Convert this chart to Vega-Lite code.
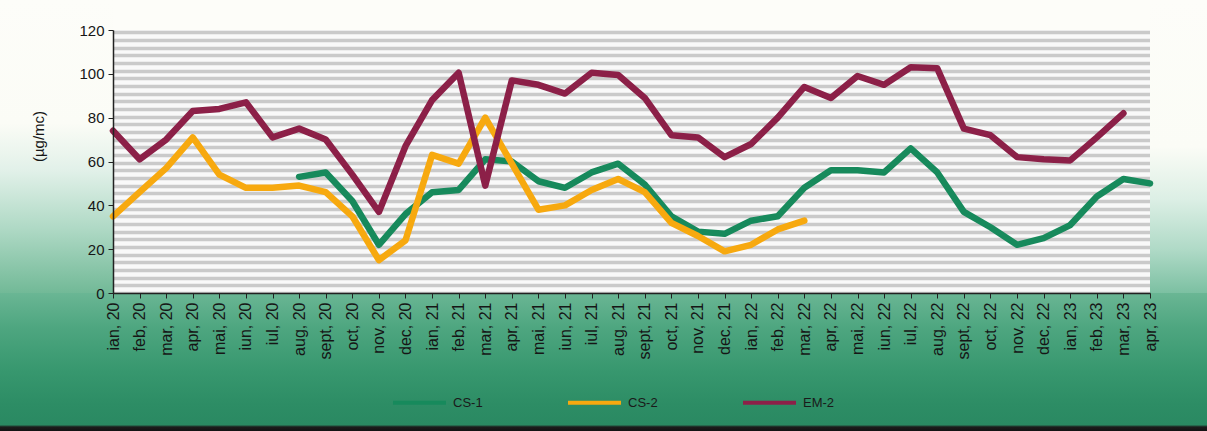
{
  "$schema": "https://vega.github.io/schema/vega-lite/v6.json",
  "width": 1037,
  "height": 263,
  "autosize": {"type": "none"},
  "padding": {"left": 113, "top": 30, "right": 57, "bottom": 138},
  "background": "#fdfdf9",
  "config": {"view": {"stroke": null, "fill": "#f9f9f9"}, "font": "Liberation Sans"},
  "resolve": {"scale": {"x": "independent"}},
  "layer": [
    {
      "data": {"values": [{}]},
      "mark": {"type": "rect", "strokeWidth": 0, "fill": {"gradient": "linear", "x1": 0, "y1": 0, "x2": 0, "y2": 1, "stops": [
        {"offset": 0, "color": "#6ab694"},
        {"offset": 0.25, "color": "#4ea680"},
        {"offset": 0.55, "color": "#38986f"},
        {"offset": 0.8, "color": "#2d8d65"},
        {"offset": 0.955, "color": "#2a8962"},
        {"offset": 0.97, "color": "#1c1c1c"},
        {"offset": 1, "color": "#121212"}
      ]}},
      "encoding": {
        "x": {"datum": -4.25, "type": "quantitative", "scale": {"domain": [0, 39], "nice": false, "zero": false}, "axis": null},
        "x2": {"datum": 41.2},
        "y": {"datum": 0, "type": "quantitative", "scale": {"domain": [0, 120], "nice": false}, "axis": null},
        "y2": {"datum": -63}
      }
    },
    {
      "data": {"values": [{}]},
      "mark": {"type": "rect", "strokeWidth": 0, "fill": {"gradient": "linear", "x1": 0, "y1": 0, "x2": 0, "y2": 1, "stops": [
        {"offset": 0, "color": "#fdfdf9"},
        {"offset": 0.42, "color": "#fbfcf6"},
        {"offset": 0.58, "color": "#e2f1e9"},
        {"offset": 0.78, "color": "#afd9c5"},
        {"offset": 1, "color": "#72b997"}
      ]}},
      "encoding": {
        "x": {"datum": -4.25, "type": "quantitative", "scale": {"domain": [0, 39], "nice": false, "zero": false}, "axis": null},
        "x2": {"datum": 0},
        "y": {"datum": 0, "type": "quantitative", "scale": {"domain": [0, 120], "nice": false},
          "axis": {"orient": "right", "grid": true, "labels": false, "ticks": false, "domain": false, "title": null, "zindex": 0,
            "gridColor": "#cacaca", "gridWidth": 3.3,
            "values": [0, 3.5, 7, 10.5, 14, 17.5, 21, 24.5, 28, 31.5, 35, 38.5, 42, 45.5, 49, 52.5, 56, 59.5, 63, 66.5, 70, 73.5, 77, 80.5, 84, 87.5, 91, 94.5, 98, 101.5, 105, 108.5, 112, 115.5, 119]}},
        "y2": {"datum": 133.7}
      }
    },
    {
      "data": {"values": [{}]},
      "mark": {"type": "rect", "strokeWidth": 0, "fill": {"gradient": "linear", "x1": 0, "y1": 0, "x2": 0, "y2": 1, "stops": [
        {"offset": 0, "color": "#fdfdf9"},
        {"offset": 0.5, "color": "#fbfcf6"},
        {"offset": 0.68, "color": "#dcefe5"},
        {"offset": 0.85, "color": "#b0dac7"},
        {"offset": 1, "color": "#7cc0a2"}
      ]}},
      "encoding": {
        "x": {"datum": 39, "type": "quantitative", "scale": {"domain": [0, 39], "nice": false, "zero": false}, "axis": null},
        "x2": {"datum": 41.2},
        "y": {"datum": 0, "type": "quantitative", "scale": {"domain": [0, 120], "nice": false}, "axis": null},
        "y2": {"datum": 133.7}
      }
    },
    {
      "data": {"values": [
        {"month": "ian, 20", "CS-1": null, "CS-2": 35, "EM-2": 74},
        {"month": "feb, 20", "CS-1": null, "CS-2": 46, "EM-2": 61},
        {"month": "mar, 20", "CS-1": null, "CS-2": 57, "EM-2": 70},
        {"month": "apr, 20", "CS-1": null, "CS-2": 71, "EM-2": 83},
        {"month": "mai, 20", "CS-1": null, "CS-2": 54, "EM-2": 84},
        {"month": "iun, 20", "CS-1": null, "CS-2": 48, "EM-2": 87},
        {"month": "iul, 20", "CS-1": null, "CS-2": 48, "EM-2": 71},
        {"month": "aug, 20", "CS-1": 53, "CS-2": 49, "EM-2": 75},
        {"month": "sept, 20", "CS-1": 55, "CS-2": 46, "EM-2": 70},
        {"month": "oct, 20", "CS-1": 42, "CS-2": 35, "EM-2": 54},
        {"month": "nov, 20", "CS-1": 22, "CS-2": 15, "EM-2": 37},
        {"month": "dec, 20", "CS-1": 36, "CS-2": 24, "EM-2": 67},
        {"month": "ian, 21", "CS-1": 46, "CS-2": 63, "EM-2": 88},
        {"month": "feb, 21", "CS-1": 47, "CS-2": 59, "EM-2": 100.5},
        {"month": "mar, 21", "CS-1": 61, "CS-2": 80, "EM-2": 49},
        {"month": "apr, 21", "CS-1": 60, "CS-2": 59, "EM-2": 97},
        {"month": "mai, 21", "CS-1": 51, "CS-2": 38, "EM-2": 95},
        {"month": "iun, 21", "CS-1": 48, "CS-2": 40, "EM-2": 91},
        {"month": "iul, 21", "CS-1": 55, "CS-2": 47, "EM-2": 100.5},
        {"month": "aug, 21", "CS-1": 59, "CS-2": 52, "EM-2": 99.5},
        {"month": "sept, 21", "CS-1": 49.5, "CS-2": 46, "EM-2": 89},
        {"month": "oct, 21", "CS-1": 35, "CS-2": 32, "EM-2": 72},
        {"month": "nov, 21", "CS-1": 28, "CS-2": 26, "EM-2": 71},
        {"month": "dec, 21", "CS-1": 27, "CS-2": 19, "EM-2": 62},
        {"month": "ian, 22", "CS-1": 33, "CS-2": 22, "EM-2": 68},
        {"month": "feb, 22", "CS-1": 35, "CS-2": 29, "EM-2": 80},
        {"month": "mar, 22", "CS-1": 48, "CS-2": 33, "EM-2": 94},
        {"month": "apr, 22", "CS-1": 56, "CS-2": null, "EM-2": 89},
        {"month": "mai, 22", "CS-1": 56, "CS-2": null, "EM-2": 99},
        {"month": "iun, 22", "CS-1": 55, "CS-2": null, "EM-2": 95},
        {"month": "iul, 22", "CS-1": 66, "CS-2": null, "EM-2": 103},
        {"month": "aug, 22", "CS-1": 55, "CS-2": null, "EM-2": 102.5},
        {"month": "sept, 22", "CS-1": 37, "CS-2": null, "EM-2": 75},
        {"month": "oct, 22", "CS-1": 30, "CS-2": null, "EM-2": 72},
        {"month": "nov, 22", "CS-1": 22, "CS-2": null, "EM-2": 62},
        {"month": "dec, 22", "CS-1": 25, "CS-2": null, "EM-2": 61},
        {"month": "ian, 23", "CS-1": 31, "CS-2": null, "EM-2": 60.5},
        {"month": "feb, 23", "CS-1": 44, "CS-2": null, "EM-2": 71},
        {"month": "mar, 23", "CS-1": 52, "CS-2": null, "EM-2": 82},
        {"month": "apr, 23", "CS-1": 50, "CS-2": null, "EM-2": null}
      ]},
      "transform": [{"fold": ["CS-1", "CS-2", "EM-2"], "as": ["series", "value"]}],
      "mark": {"type": "line", "strokeWidth": 6.5, "strokeJoin": "round", "strokeCap": "round"},
      "encoding": {
        "x": {"field": "month", "type": "ordinal", "sort": null, "scale": {"type": "point", "padding": 0},
          "axis": {"title": null, "labelAngle": -90, "labelFontSize": 16, "labelColor": "#161616", "labelPadding": 4,
            "tickSize": 5, "tickColor": "#222222", "domainColor": "#222222", "domainWidth": 1.5, "labelOverlap": false, "zindex": 1}},
        "y": {"field": "value", "type": "quantitative", "scale": {"domain": [0, 120], "nice": false},
          "axis": {"orient": "left", "values": [0, 20, 40, 60, 80, 100, 120], "grid": false, "zindex": 1,
            "title": "(µg/mc)", "titleFontSize": 15, "titleFontWeight": "normal", "titleColor": "#161616", "titleX": -67, "titleY": 106,
            "labelFontSize": 15, "labelColor": "#161616", "labelPadding": 4, "tickSize": 5, "tickColor": "#222222",
            "domainColor": "#222222", "domainWidth": 1.5}},
        "color": {"field": "series", "type": "nominal",
          "scale": {"domain": ["CS-1", "CS-2", "EM-2"], "range": ["#178a5c", "#f7a90f", "#8c2048"]},
          "legend": {"title": null, "orient": "none", "legendX": 278, "legendY": 344, "direction": "horizontal",
            "symbolType": "stroke", "symbolSize": 2809, "symbolStrokeWidth": 4, "labelFontSize": 13, "labelColor": "#1a1a1a",
            "labelOffset": 5, "columnPadding": 75, "gridAlign": "all", "zindex": 1}}
      }
    }
  ]
}
